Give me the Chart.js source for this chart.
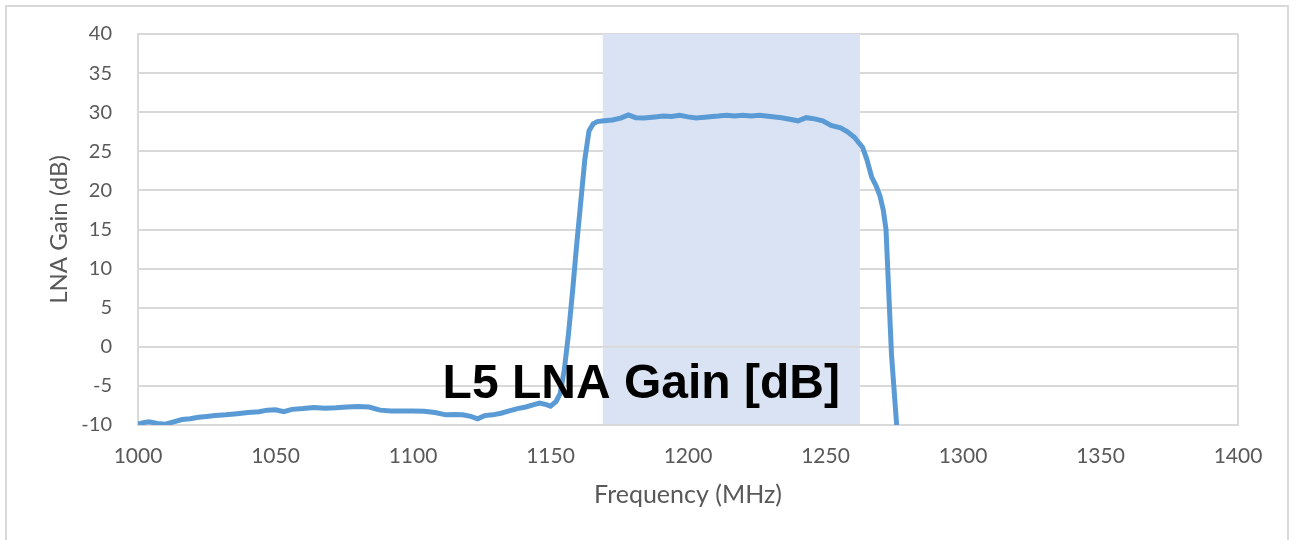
<!DOCTYPE html>
<html>
<head>
<meta charset="utf-8">
<script src="https://cdn.jsdelivr.net/npm/chart.js@4.4.1/dist/chart.umd.min.js"></script>
<style>
  body { margin: 0; background: #fff; overflow: hidden; }
  .frame { position: absolute; left: 5px; top: 5px; width: 1280px; height: 600px; border: 2px solid #d9d9d9; border-bottom: none; }
  .wrap { position: absolute; left: 0; top: -4px; width: 1296px; height: 544px; }
</style>
</head>
<body>
<div class="frame"></div>
<div class="wrap"><canvas id="gainChart" width="1296" height="544"></canvas></div>
<script>
// measured LNA gain
const freq = [1000, 1002, 1004, 1007, 1010, 1013, 1016, 1019, 1022, 1025, 1028, 1032, 1036, 1040, 1044, 1047, 1050, 1053, 1056, 1060,
  1064, 1068, 1072, 1076, 1080, 1084, 1088, 1092, 1096, 1100, 1104, 1108, 1112, 1115, 1118, 1121, 1123.5, 1126, 1129, 1132,
  1135, 1138, 1141, 1144, 1146, 1148.5, 1150, 1152, 1153.5, 1155, 1156.5, 1158, 1159.5, 1161, 1162.5, 1164, 1165.5, 1167, 1169.5, 1172.5,
  1175.5, 1178.3, 1181, 1184, 1188, 1191, 1194, 1197, 1200, 1203, 1207, 1211, 1214, 1217, 1220, 1223, 1226, 1230, 1234, 1237,
  1240, 1243, 1246, 1249, 1252, 1255.5, 1258, 1260.5, 1263.5, 1265, 1266.8, 1268.5, 1269.8, 1271, 1272, 1273, 1274, 1276];
const gain = [-9.9, -9.7, -9.6, -9.8, -9.9, -9.6, -9.3, -9.2, -9.0, -8.9, -8.8, -8.7, -8.55, -8.4, -8.3, -8.1, -8.05, -8.3, -8.0, -7.9,
  -7.75, -7.85, -7.8, -7.7, -7.65, -7.7, -8.1, -8.2, -8.2, -8.2, -8.25, -8.4, -8.7, -8.65, -8.7, -8.9, -9.2, -8.8, -8.7, -8.5,
  -8.2, -7.9, -7.7, -7.4, -7.2, -7.4, -7.6, -7.0, -6.0, -3.0, 1.5, 7.0, 13.0, 18.5, 24.0, 27.6, 28.5, 28.8, 28.9, 29.0,
  29.25, 29.65, 29.3, 29.25, 29.4, 29.5, 29.45, 29.6, 29.4, 29.25, 29.4, 29.5, 29.6, 29.5, 29.6, 29.5, 29.6, 29.45, 29.3, 29.1,
  28.9, 29.3, 29.15, 28.9, 28.3, 28.0, 27.5, 26.8, 25.5, 24.0, 21.7, 20.5, 19.3, 17.5, 15.0, 7.0, -1.0, -10.6];

const bandStart = 1169;   // shaded L5 band
const bandEnd = 1262.5;
const labelText = "L5 LNA Gain [dB]";
const labelFreq = 1183;
const labelGain = -4.9;

const grey = "#595959";
const gridGrey = "#d9d9d9";

const bandPlugin = {
  id: "band",
  beforeDatasetsDraw(chart) {
    const { ctx, chartArea, scales } = chart;
    const x1 = scales.x.getPixelForValue(bandStart);
    const x2 = scales.x.getPixelForValue(bandEnd);
    ctx.save();
    ctx.fillStyle = "#dae3f3";
    ctx.fillRect(x1, chartArea.top, x2 - x1, chartArea.bottom - chartArea.top - 1);
    // zero line stays visible over the band
    const y0 = scales.y.getPixelForValue(0);
    ctx.strokeStyle = gridGrey;
    ctx.lineWidth = 2;
    ctx.beginPath();
    ctx.moveTo(x1, y0);
    ctx.lineTo(x2, y0);
    ctx.stroke();
    ctx.restore();
  },
  afterDatasetsDraw(chart) {
    const { ctx, scales } = chart;
    ctx.save();
    ctx.font = "bold 48px 'Liberation Sans', Arial, sans-serif";
    ctx.fillStyle = "#000";
    ctx.textAlign = "center";
    ctx.textBaseline = "middle";
    ctx.fillText(labelText, scales.x.getPixelForValue(labelFreq), scales.y.getPixelForValue(labelGain));
    ctx.restore();
  }
};

const edgePlugin = {
  id: "rightEdge",
  afterDraw(chart) {
    // right edge of the plot box
    const { ctx, chartArea } = chart;
    ctx.save();
    ctx.strokeStyle = gridGrey;
    ctx.lineWidth = 2;
    ctx.beginPath();
    ctx.moveTo(chartArea.right, chartArea.top);
    ctx.lineTo(chartArea.right, chartArea.bottom);
    ctx.stroke();
    ctx.restore();
  }
};

const ctx = document.getElementById("gainChart").getContext("2d");
const gainChart = new Chart(ctx, {
  type: "line",
  data: {
    datasets: [{
      data: freq.map((f, i) => ({ x: f, y: gain[i] })),
      borderColor: "#5b9bd5",
      borderWidth: 5,
      pointRadius: 0,
      tension: 0,
      fill: false
    }]
  },
  options: {
    responsive: false,
    animation: false,
    layout: { padding: { top: 29, right: 58, left: 0, bottom: 0 } },
    plugins: { legend: { display: false }, tooltip: { enabled: false } },
    scales: {
      x: {
        type: "linear",
        min: 1000,
        max: 1400,
        ticks: { stepSize: 50, color: grey, padding: 19, font: { family: "Lato", size: 21 }, maxRotation: 0, callback: v => String(v) },
        grid: { color: gridGrey, lineWidth: 2, drawTicks: false, drawOnChartArea: false },
        border: { display: true, color: gridGrey, width: 2 },
        title: { display: true, text: "Frequency (MHz)", color: grey, font: { family: "Lato", size: 25 }, padding: { bottom: 30 } },
        afterFit(scale) { scale.height = 115; }
      },
      y: {
        min: -10,
        max: 40,
        ticks: { stepSize: 5, color: grey, padding: 26, font: { family: "Lato", size: 20 } },
        grid: { color: gridGrey, lineWidth: 2, drawTicks: false },
        border: { display: true, color: gridGrey, width: 2 },
        title: { display: true, text: "LNA Gain (dB)", color: grey, font: { family: "Lato", size: 24 }, padding: { top: 45 } },
        afterFit(scale) { scale.width = 138; }
      }
    }
  },
  plugins: [bandPlugin, edgePlugin]
});
</script>
</body>
</html>
